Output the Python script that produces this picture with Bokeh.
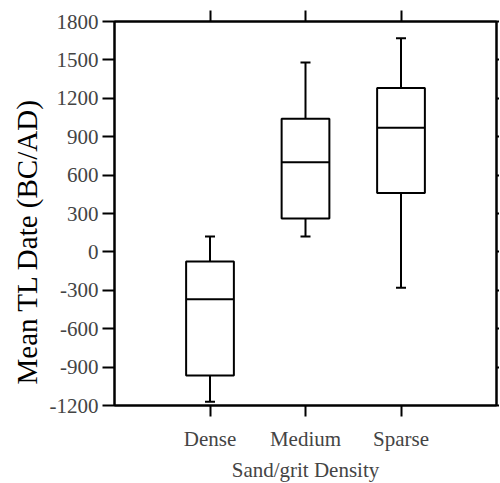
from bokeh.plotting import figure
from bokeh.models import LinearAxis, FixedTicker, Whisker, TeeHead, Range1d, ColumnDataSource, Title
from bokeh.embed import file_html
from bokeh.resources import INLINE

categories = ["Dense", "Medium", "Sparse"]
positions = [1, 2, 3]
lower_whisker = [-1170, 120, -280]
q1 = [-965, 260, 460]
median = [-370, 700, 970]
q3 = [-75, 1040, 1280]
upper_whisker = [120, 1480, 1670]
y_ticks = [-1200, -900, -600, -300, 0, 300, 600, 900, 1200, 1500, 1800]
y_tick_labels = ["-1200", "-900", "-600", "-300", "0", "300", "600", "900", "1200", "1500", "1800"]

box_w = 0.5
FONT = "Liberation Serif"

src = ColumnDataSource(dict(
    x=positions, lw=lower_whisker, q1=q1, med=median, q3=q3, uw=upper_whisker,
    x0=[p - box_w / 2 for p in positions], x1=[p + box_w / 2 for p in positions],
))

p = figure(frame_width=382, frame_height=384, output_backend="svg", toolbar_location=None,
           x_range=Range1d(0, 4), y_range=Range1d(-1200, 1800),
           min_border_left=114, min_border_top=21, min_border_bottom=77, min_border_right=3)
p.outline_line_color = "black"
p.outline_line_width = 2
p.grid.visible = False
p.background_fill_color = "white"
p.border_fill_color = "white"

# boxes
p.quad(left="x0", right="x1", bottom="q1", top="q3", source=src,
       fill_color="white", line_color="black", line_width=2)
p.segment(x0="x0", x1="x1", y0="med", y1="med", source=src, line_color="black", line_width=2)

up = Whisker(base="x", lower="q3", upper="uw", source=src, dimension="height",
             line_color="black", line_width=2,
             upper_head=TeeHead(size=10, line_color="black", line_width=2), lower_head=None)
lo = Whisker(base="x", lower="lw", upper="q1", source=src, dimension="height",
             line_color="black", line_width=2,
             lower_head=TeeHead(size=10, line_color="black", line_width=2), upper_head=None)
p.add_layout(up)
p.add_layout(lo)

# bottom axis
xa = p.xaxis[0]
xa.ticker = FixedTicker(ticks=positions)
xa.major_label_overrides = {pos: c for pos, c in zip(positions, categories)}
xa.minor_tick_line_color = None
xa.major_tick_out = 11
xa.major_tick_in = 0
xa.axis_line_width = 2
xa.major_tick_line_width = 2
xa.major_label_text_font = FONT
xa.major_label_text_font_size = "21px"
xa.major_label_standoff = 10
xa.axis_label = "Sand/grit Density"
xa.axis_label_text_font = FONT
xa.axis_label_text_font_size = "21px"
xa.axis_label_text_font_style = "normal"
xa.axis_label_standoff = 4

# left axis
ya = p.yaxis[0]
ya.ticker = FixedTicker(ticks=y_ticks)
ya.major_label_overrides = {t: s for t, s in zip(y_ticks, y_tick_labels)}
ya.minor_tick_line_color = None
ya.major_tick_out = 12
ya.major_tick_in = 0
ya.axis_line_width = 2
ya.major_tick_line_width = 2
ya.major_label_text_font = FONT
ya.major_label_text_font_size = "21px"
ya.major_label_standoff = 4

# y axis label, placed low as in the reference
ylab = Title(text="Mean TL Date (BC/AD)", align="left", offset=21,
             text_font=FONT, text_font_size="29px", text_font_style="normal",
             text_color="black", standoff=7)
p.add_layout(ylab, "left")

# top axis (ticks only)
ta = LinearAxis(ticker=FixedTicker(ticks=positions), major_label_text_font_size="1px",
                major_label_text_color=None,
                major_label_standoff=0, major_tick_out=11, major_tick_in=0,
                minor_tick_line_color=None, axis_line_width=2, major_tick_line_width=2)
p.add_layout(ta, "above")

# right axis (ticks only)
ra = LinearAxis(ticker=FixedTicker(ticks=y_ticks), major_label_text_font_size="1px",
                major_label_text_color=None,
                major_label_standoff=0, major_tick_out=3, major_tick_in=0,
                minor_tick_line_color=None, axis_line_width=2, major_tick_line_width=2)
p.add_layout(ra, "right")

open("out.html", "w").write(file_html(p, INLINE))
